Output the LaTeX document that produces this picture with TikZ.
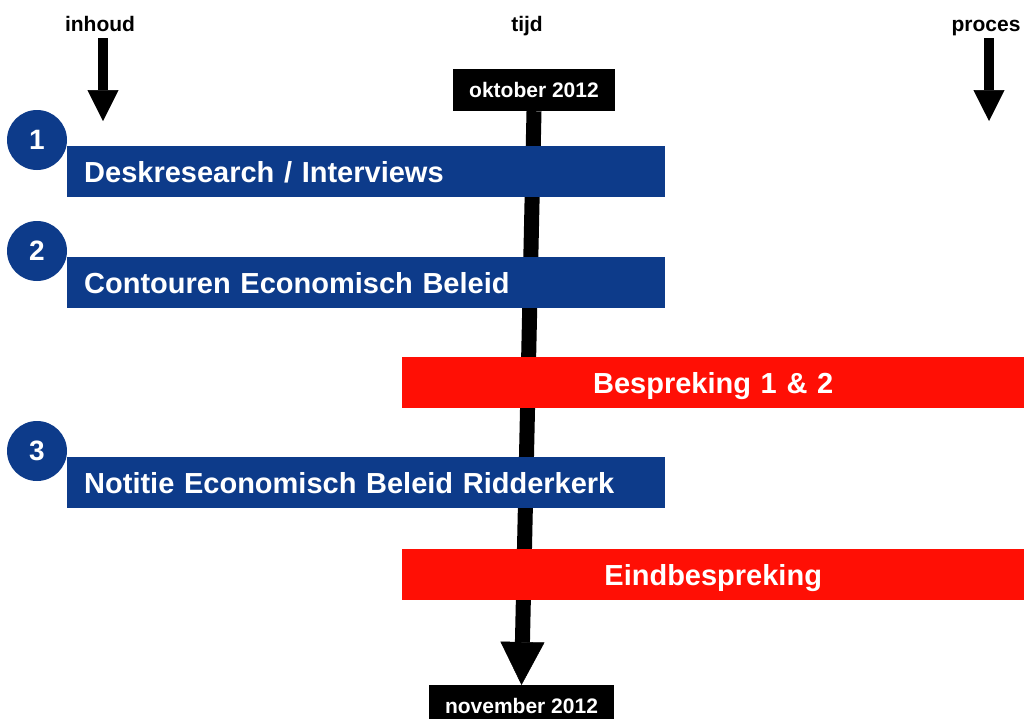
\documentclass[tikz,border=0pt]{standalone}
\usepackage{fontspec}
\setmainfont{Liberation Sans}
\usepackage{tikz}
\usetikzlibrary{arrows.meta}
\definecolor{inhoudblue}{HTML}{0D3B8A}
\definecolor{procesred}{HTML}{FF0F05}
\tikzset{
    toplabel/.style={font=\bfseries\fontsize{21}{24}\selectfont, inner xsep=0pt, inner ysep=7pt, text height=15pt, text depth=0pt},
    downarrow/.style={line width=10pt, -{Triangle[width=31pt, length=31pt, line width=0.5pt]}},
    datebox/.style={fill=black, text=white, font=\bfseries\fontsize{21}{24}\selectfont, minimum height=42pt, inner sep=0pt, text height=15pt, text depth=0pt},
    bar/.style={rectangle, text=white, font=\bfseries\fontsize{29}{31}\selectfont, inner xsep=17pt, inner ysep=0pt, minimum height=51pt, text height=22.5pt, text depth=0pt, anchor=north west},
    inhoudbar/.style={bar, fill=inhoudblue, text width=564pt, align=left},
    procesbar/.style={bar, fill=procesred, text width=588pt, align=center},
    stepnum/.style={circle, fill=inhoudblue, text=white, font=\bfseries\fontsize{28}{30}\selectfont, minimum size=60pt, inner sep=0pt}
}
\begin{document}
\begin{tikzpicture}[x=1pt, y=-1pt]
            \useasboundingbox (0, 0) rectangle (1024, 718);
            % kolomkoppen
            \node[toplabel] (inhoud) at (100, 23.5) {inhoud};
            \node[toplabel] (tijd) at (527, 23.5) {tijd};
            \node[toplabel] (proces) at (986, 23.5) {proces};
            \coordinate (inhoudtip) at (103, 121);
            \coordinate (procestip) at (989, 121);
            \draw[downarrow] ([xshift=3pt]inhoud.south) -- (inhoudtip);
            \draw[downarrow] ([xshift=3pt]proces.south) -- (procestip);
            % tijdlijn
            \node[datebox, minimum width=162pt] (okt) at (534, 90) {oktober 2012};
            \node[datebox, minimum width=185pt, anchor=north] (nov) at (521.5, 685) {november 2012};
            \draw[line width=15pt, -{Triangle[width=44pt, length=43pt, line width=0.5pt]}] (okt.south) -- (nov.north);
            % stappen
            \node[inhoudbar] (desk) at (67, 146) {Deskresearch / Interviews};
            \node[inhoudbar] (contour) at (67, 257) {Contouren Economisch Beleid};
            \node[procesbar] (bespr) at (402, 357) {Bespreking 1 \& 2};
            \node[inhoudbar] (notitie) at (67, 457) {Notitie Economisch Beleid Ridderkerk};
            \node[procesbar] (eind) at (402, 549) {Eindbespreking};
            \node[stepnum] (een) at (37, 140) {1};
            \node[stepnum] (twee) at (37, 251) {2};
            \node[stepnum] (drie) at (37, 451) {3};
        \end{tikzpicture}
\end{document}
